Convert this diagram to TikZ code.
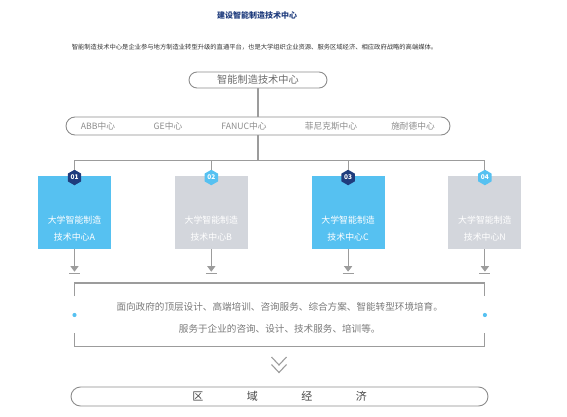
\documentclass[tikz,border=0pt]{standalone}
\usepackage{fontspec}
\setmainfont{Noto Sans CJK SC}
\usetikzlibrary{shapes.geometric,arrows.meta}
\definecolor{navy}{HTML}{1F3C7D}
\definecolor{lblue}{HTML}{56C1F1}
\definecolor{gbox}{HTML}{D3D6DC}
\definecolor{lgray}{HTML}{9C9C9C}
\definecolor{pgray}{HTML}{8C8C8C}
\definecolor{tgray}{HTML}{6A6A6A}
\tikzset{
  pill/.style={draw=pgray,line width=0.9pt,rounded corners=#1,inner sep=0pt},
  conn/.style={draw=lgray,line width=1.1pt},
  member/.style={text=pgray,font=\fontsize{8.7}{10}\selectfont,inner sep=0pt},
  hexdark/.style={regular polygon,regular polygon sides=6,shape border rotate=30,minimum size=15.5pt,inner sep=0pt,fill=navy,text=white,font=\fontsize{6.5}{7}\selectfont\bfseries},
  hexlight/.style={hexdark,fill=lblue},
  bluebox/.style={rectangle,fill=lblue,minimum width=73pt,minimum height=73pt,inner sep=0pt},
  graybox/.style={bluebox,fill=gbox},
  boxtext/.style={text=white,align=center,font=\fontsize{8.9}{17}\selectfont,inner sep=0pt},
  svctext/.style={text=tgray!90,align=center,font=\fontsize{9.6}{22}\selectfont,inner sep=0pt},
  tipend/.style={conn,-{Triangle[width=8pt,length=5.5pt]}},
  barline/.style={draw=lgray,line width=1.4pt},
  chev/.style={draw=lgray,line width=1.1pt},
}
\begin{document}
\begin{tikzpicture}[x=1pt,y=-1pt]
\useasboundingbox (0,0) rectangle (567,417);
% title
\node[text=navy,font=\fontsize{8}{9}\selectfont\bfseries,inner sep=0pt] (title) at (257,15) {建设智能制造技术中心};
\node[text=black!80,font=\fontsize{6.3}{7}\selectfont,inner sep=0pt] (sub) at (254.5,47) {智能制造技术中心是企业参与地方制造业转型升级的直通平台，也是大学组织企业资源、服务区域经济、相应政府战略的高端媒体。};
% top pill
\node[pill=8pt,minimum width=138pt,minimum height=16pt,text=tgray,font=\fontsize{10.2}{11}\selectfont] (top) at (258,80) {智能制造技术中心};
% members pill
\node[pill=9pt,minimum width=384pt,minimum height=18pt] (mem) at (258,126) {};
\node[member] (m1) at (98,126) {ABB中心};
\node[member] (m2) at (168,126) {GE中心};
\node[member] (m3) at (244,126) {FANUC中心};
\node[member] (m4) at (331,126) {菲尼克斯中心};
\node[member] (m5) at (413,126) {施耐德中心};
\draw[conn] (top.south) -- (mem.north);
\coordinate (bus) at (258,160.5);
% boxes
\node[bluebox] (bA) at (74.5,212.5) {};
\node[graybox] (bB) at (211.3,212.5) {};
\node[bluebox] (bC) at (348.1,212.5) {};
\node[graybox] (bN) at (484.9,212.5) {};
\node[boxtext] (tA) at (74.5,228.5) {大学智能制造\\技术中心A};
\node[boxtext] (tB) at (211.3,228.5) {大学智能制造\\技术中心B};
\node[boxtext] (tC) at (348.1,228.5) {大学智能制造\\技术中心C};
\node[boxtext] (tN) at (484.9,228.5) {大学智能制造\\技术中心N};
% hexagons
\node[hexdark] (h1) at (74.5,177.5) {01};
\node[hexlight] (h2) at (211.3,177.5) {02};
\node[hexdark] (h3) at (348.1,177.5) {03};
\node[hexlight] (h4) at (484.9,177.5) {04};
% bus lines
\draw[conn] (mem.south) -- (bus);
\draw[conn] (h1.north) |- (bus) -| (h4.north);
\draw[conn] (h2.north) -- (h2.north |- bus);
\draw[conn] (h3.north) -- (h3.north |- bus);
% arrows down
\foreach \b in {bA,bB,bC,bN}{
  \coordinate (\b tip) at ([yshift=-22.5pt]\b.south);
  \draw[tipend] (\b.south) -- (\b tip);
  \draw[barline] ([xshift=-5.5pt,yshift=-1.9pt]\b tip) -- ([xshift=5.5pt,yshift=-1.9pt]\b tip);
}
% bracket frame
\coordinate (fl) at (74.5,283);
\coordinate (fr) at (484.9,283);
\coordinate (gl) at (74.5,346.5);
\coordinate (gr) at (484.9,346.5);
\draw[conn] ([yshift=-13pt]fl) -- (fl) -- (fr) -- ([yshift=-13pt]fr);
\draw[conn] ([yshift=13.5pt]gl) -- (gl) -- (gr) -- ([yshift=13.5pt]gr);
\fill[lblue] (74.5,315) circle (2.1pt);
\fill[lblue] (484.9,315) circle (2.1pt);
\node[svctext] (svc) at (279.7,318) {面向政府的顶层设计、高端培训、咨询服务、综合方案、智能转型环境培育。\\服务于企业的咨询、设计、技术服务、培训等。};
% chevrons
\coordinate (cv) at (279,365);
\draw[chev] (271.5,357) -- (cv) -- (286.5,357);
\draw[chev] (271.5,364.5) -- (279,372.5) -- (286.5,364.5);
% bottom pill
\node[pill=9.5pt,minimum width=417pt,minimum height=19pt,text=black!72,font=\fontsize{11}{12}\selectfont] (eco) at (279.5,396.5) {区\hspace{43.5pt}域\hspace{43.5pt}经\hspace{43.5pt}济};
\end{tikzpicture}
\end{document}
